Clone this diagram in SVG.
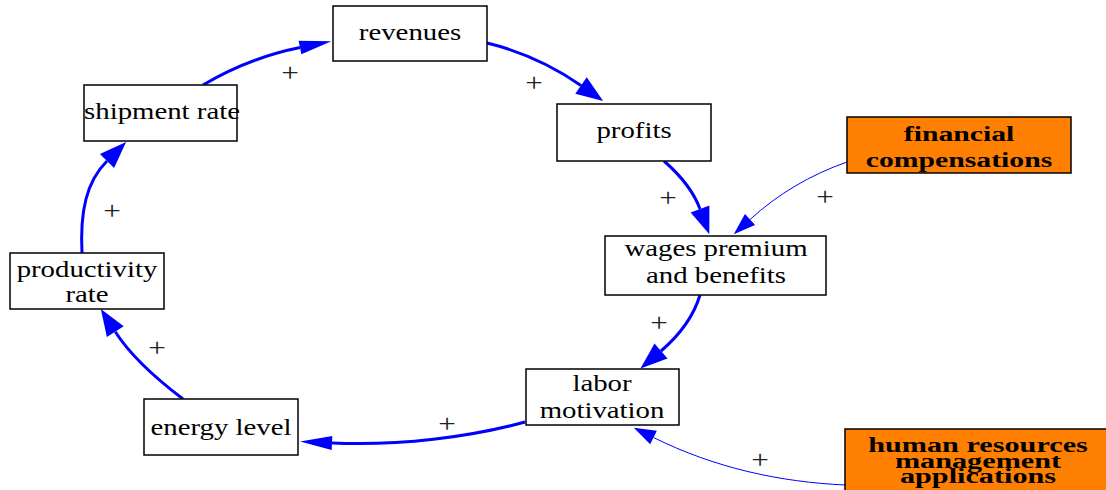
<svg xmlns="http://www.w3.org/2000/svg" width="1106" height="490" viewBox="0 0 1106 490">
<style>
.box{fill:#fff;stroke:#000;stroke-width:1.5}
.ext{fill:#ff8000;stroke:#000;stroke-width:1.5}
.t{font-family:"Liberation Serif","Times New Roman",Times,serif;font-size:24px;fill:#000;text-anchor:middle}
.b{font-family:"Liberation Serif","Times New Roman",Times,serif;font-weight:bold;fill:#000;text-anchor:middle}
.thick{fill:none;stroke:#0000ff;stroke-width:3}
.thin{fill:none;stroke:#0000ff;stroke-width:1}
.pl{font-family:"Liberation Serif","Times New Roman",Times,serif;font-size:26px;fill:#222;text-anchor:middle}
</style>
<defs>
<marker id="ah" markerUnits="userSpaceOnUse" markerWidth="34" markerHeight="20" refX="0" refY="10" orient="auto" overflow="visible"><path d="M0,3 L32,10 L0,17 z" fill="#0000ff"/></marker>
<marker id="av" markerUnits="userSpaceOnUse" markerWidth="30" markerHeight="22" refX="0" refY="11" orient="auto" overflow="visible"><path d="M0,1 L27,11 L0,21 z" fill="#0000ff"/></marker>
<marker id="at" markerUnits="userSpaceOnUse" markerWidth="24" markerHeight="16" refX="0" refY="8" orient="auto" overflow="visible"><path d="M0,0.5 L22,8 L0,15.5 z" fill="#0000ff"/></marker>
</defs>
<g id="connectors">
<path class="thick" d="M203,85 C235,66 268,54 300,47.5" marker-end="url(#ah)"/>
<path class="thick" d="M487,43 C520,51 553,66 581,85.5" marker-end="url(#av)"/>
<path class="thick" d="M664,161 C680,175 693,190 700,209" marker-end="url(#av)"/>
<path class="thin" d="M847,162 C810,175 778,194 750,219.5" marker-end="url(#at)"/>
<path class="thick" d="M700,295 C694,315 682,333 661,351" marker-end="url(#av)"/>
<path class="thin" d="M845,485 C780,482 715,468 653.5,437.5" marker-end="url(#at)"/>
<path class="thick" d="M525,422 C470,437 400,446 332,443" marker-end="url(#ah)"/>
<path class="thick" d="M183,399 C158,380 132,358 115.3,331.7" marker-end="url(#av)"/>
<path class="thick" d="M82,253 C80,212 86,182 107,161" marker-end="url(#av)"/>
<g class="pl">
<text transform="translate(290,81) scale(1.2,1)">+</text>
<text transform="translate(534,91) scale(1.2,1)">+</text>
<text transform="translate(668,206) scale(1.2,1)">+</text>
<text transform="translate(825,205) scale(1.2,1)">+</text>
<text transform="translate(659,331) scale(1.2,1)">+</text>
<text transform="translate(760,468) scale(1.2,1)">+</text>
<text transform="translate(447,432) scale(1.2,1)">+</text>
<text transform="translate(157,356) scale(1.2,1)">+</text>
<text transform="translate(112,219) scale(1.2,1)">+</text>
</g>
</g>
<g id="revenues"><rect class="box" x="333" y="6" width="154" height="55"/><text class="t" transform="translate(410,40) scale(1.2,1)">revenues</text></g>
<g id="shipment-rate"><rect class="box" x="84" y="85" width="153" height="56"/><text class="t" transform="translate(162,119) scale(1.2,1)">shipment rate</text></g>
<g id="profits"><rect class="box" x="557" y="104" width="154" height="57"/><text class="t" transform="translate(634,138) scale(1.2,1)">profits</text></g>
<g id="wages"><rect class="box" x="605" y="236" width="221" height="59"/><text class="t" transform="translate(716,256) scale(1.2,1)">wages premium</text><text class="t" transform="translate(716,283) scale(1.2,1)">and benefits</text></g>
<g id="labor-motivation"><rect class="box" x="526" y="369" width="153" height="56"/><text class="t" transform="translate(602,391) scale(1.2,1)">labor</text><text class="t" transform="translate(602,418) scale(1.2,1)">motivation</text></g>
<g id="energy-level"><rect class="box" x="144" y="399" width="154" height="56"/><text class="t" transform="translate(221,435) scale(1.2,1)">energy level</text></g>
<g id="productivity-rate"><rect class="box" x="10" y="253" width="154" height="56"/><text class="t" transform="translate(87,277) scale(1.2,1)">productivity</text><text class="t" transform="translate(87,302) scale(1.2,1)">rate</text></g>
<g id="financial-compensations"><rect class="ext" x="847" y="117" width="224" height="56"/><text class="b" font-size="22" transform="translate(959,141) scale(1.35,1)">financial</text><text class="b" font-size="22" transform="translate(959,166.5) scale(1.35,1)">compensations</text></g>
<g id="hrm-applications"><rect class="ext" x="845" y="429" width="270" height="70"/><text class="b" font-size="21" transform="translate(978,451.5) scale(1.44,1)">human resources</text><text class="b" font-size="21" transform="translate(978,468) scale(1.44,1)">management</text><text class="b" font-size="21" transform="translate(978,483) scale(1.44,1)">applications</text></g>
</svg>
